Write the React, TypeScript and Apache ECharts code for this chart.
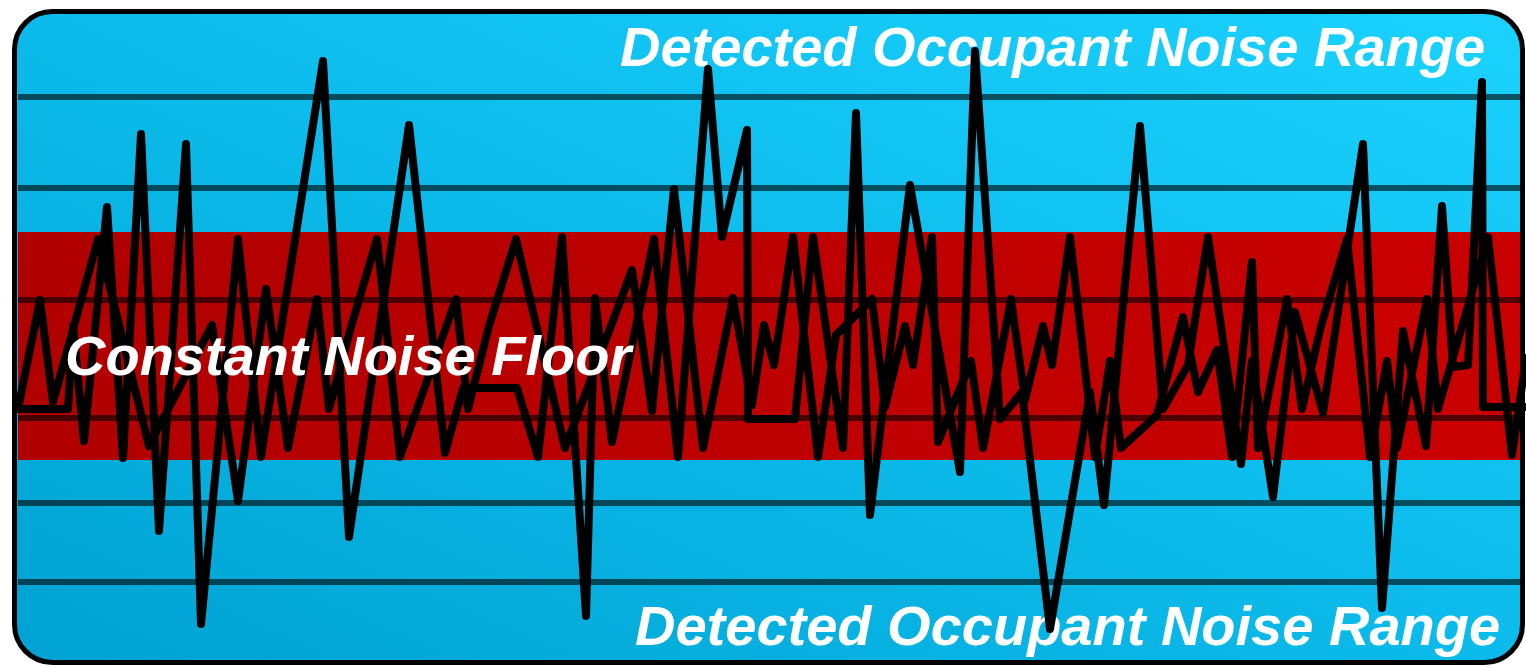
import React, { useEffect, useRef } from "react";
import * as echarts from "echarts";

// Noise trace with large excursions (time, level)
const occupantNoise: [number, number][] = [
  [18, 259], [68, 259], [73, 342], [84, 227], [107, 461], [123, 210], [141, 534], [159, 137],
  [186, 524], [201, 44], [238, 429], [261, 211], [323, 607], [349, 131], [409, 543], [445, 215],
  [463, 280], [517, 280], [538, 211], [562, 431], [586, 52], [595, 370], [612, 226], [654, 429],
  [678, 211], [708, 599], [722, 431], [747, 538], [748, 249], [795, 249], [813, 431], [843, 220],
  [856, 555], [870, 153], [910, 483], [960, 196], [975, 617], [1000, 249], [1022, 276], [1050, 39],
  [1090, 276], [1104, 163], [1140, 542], [1163, 259], [1188, 303], [1208, 431], [1241, 204],
  [1252, 307], [1273, 171], [1295, 356], [1323, 255], [1363, 524], [1382, 60], [1403, 337],
  [1426, 222], [1442, 462], [1453, 301], [1468, 303], [1482, 586], [1483, 261], [1526, 261],
];

// Noise trace staying mostly inside the constant floor band
const floorNoise: [number, number][] = [
  [18, 259], [40, 368], [53, 266], [98, 429], [149, 222], [212, 343], [238, 167], [266, 379],
  [288, 220], [317, 369], [329, 259], [351, 341], [377, 429], [400, 211], [456, 369], [468, 259],
  [489, 342], [516, 429], [565, 220], [632, 398], [652, 257], [674, 479], [703, 220], [733, 370],
  [752, 263], [764, 343], [774, 303], [793, 431], [818, 211], [836, 333], [872, 369], [885, 261],
  [905, 342], [913, 303], [932, 431], [938, 226], [971, 307], [983, 220], [1011, 369], [1025, 268],
  [1043, 342], [1052, 303], [1070, 431], [1095, 211], [1110, 307], [1121, 220], [1157, 253],
  [1183, 351], [1198, 276], [1217, 318], [1232, 211], [1252, 406], [1258, 220], [1287, 369],
  [1302, 259], [1321, 342], [1347, 429], [1370, 211], [1387, 307], [1397, 220], [1427, 369],
  [1438, 259], [1488, 431], [1512, 213], [1526, 310],
];

// Reference levels (horizontal rules) and floor band limits
const referenceLevels: number[] = [571, 480, 368, 250, 165, 86];
const floorBand: [number, number] = [208, 436];
const timeRange: [number, number] = [18, 1520];

const rangeLabel = "Detected Occupant Noise Range";
const floorLabel = "Constant Noise Floor";

export default function App() {
  const ref = useRef<HTMLDivElement>(null);

  useEffect(() => {
    if (!ref.current) return;
    const chart = echarts.init(ref.current, null, { renderer: "svg" });
    const font = 'italic bold 56px "Liberation Sans", Arial, sans-serif';

    const option: any = {
      animation: false,
      grid: { left: 0, right: 0, top: 0, bottom: 0 },
      xAxis: { type: "value", min: 0, max: 1526, show: false },
      yAxis: { type: "value", min: 0, max: 668, show: false },
      graphic: [
        {
          type: "rect",
          z: 0,
          shape: { x: 14.5, y: 11.5, width: 1508, height: 651, r: 38 },
          style: {
            fill: new echarts.graphic.LinearGradient(0, 1, 1, 0, [
              { offset: 0, color: "#00a2d2" },
              { offset: 0.5, color: "#0cbbeb" },
              { offset: 1, color: "#1bd2ff" },
            ]),
            stroke: "none",
          },
        },
        {
          type: "text",
          z: 3,
          style: {
            text: rangeLabel, x: 620, y: 46, font, fill: "#ffffff",
            textAlign: "left", textVerticalAlign: "middle", align: "left", verticalAlign: "middle",
          },
        },
        {
          type: "text",
          z: 3,
          style: {
            text: rangeLabel, x: 635, y: 625, font, fill: "#ffffff",
            textAlign: "left", textVerticalAlign: "middle", align: "left", verticalAlign: "middle",
          },
        },
        {
          type: "text",
          z: 10,
          style: {
            text: floorLabel, x: 65, y: 355, font, fill: "#ffffff",
            textAlign: "left", textVerticalAlign: "middle", align: "left", verticalAlign: "middle",
          },
        },
        {
          type: "rect",
          z: 9,
          shape: { x: 14.5, y: 11.5, width: 1508, height: 651, r: 38 },
          style: { fill: "none", stroke: "#000000", lineWidth: 5 },
        },
      ],
      series: [
        {
          type: "line",
          z: 1,
          data: [[0, 0]],
          symbol: "none",
          lineStyle: { opacity: 0 },
          silent: true,
          markArea: {
            silent: true,
            z: 1,
            itemStyle: {
              color: new echarts.graphic.LinearGradient(0, 0, 1, 0, [
                { offset: 0, color: "#b00000" },
                { offset: 1, color: "#ca0000" },
              ]),
            },
            data: [[
              { coord: [timeRange[0], floorBand[1]] },
              { coord: [timeRange[1], floorBand[0]] },
            ]],
          },
          markLine: {
            silent: true,
            z: 2,
            symbol: ["none", "none"],
            label: { show: false },
            lineStyle: { color: "rgba(0,0,0,0.6)", width: 6, type: "solid" },
            data: referenceLevels.map((lv) => [
              { coord: [timeRange[0], lv] },
              { coord: [timeRange[1], lv] },
            ]),
          },
        },
        {
          type: "line",
          z: 4,
          data: floorNoise,
          symbol: "none",
          silent: true,
          lineStyle: { color: "#000000", width: 8, cap: "round", join: "round" },
        },
        {
          type: "line",
          z: 4,
          data: occupantNoise,
          symbol: "none",
          silent: true,
          lineStyle: { color: "#000000", width: 8, cap: "round", join: "round" },
        },
      ],
    };
    chart.setOption(option);
    return () => chart.dispose();
  }, []);

  return (
    <div
      ref={ref}
      style={{ position: "absolute", left: 0, top: 0, width: 1526, height: 668 }}
    />
  );
}
